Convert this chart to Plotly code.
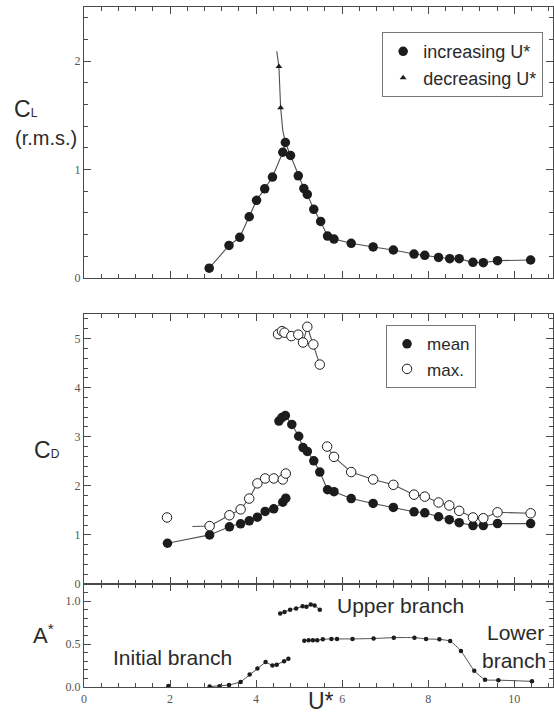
import plotly.graph_objects as go

# ---------------- lift coefficient, r.m.s. ----------------
u_cl_inc = [2.91, 3.37, 3.62, 3.84, 4.01, 4.20, 4.38, 4.62, 4.68, 4.80, 4.98, 5.11, 5.19,
            5.34, 5.50, 5.66, 5.81, 6.21, 6.72, 7.19, 7.67, 7.92, 8.24, 8.50, 8.72, 9.04,
            9.28, 9.61, 10.38]
cl_inc = [0.09, 0.30, 0.375, 0.565, 0.716, 0.823, 0.931, 1.16, 1.25, 1.13, 0.943, 0.825,
          0.771, 0.633, 0.522, 0.387, 0.359, 0.32, 0.286, 0.258, 0.221, 0.209, 0.19, 0.178,
          0.178, 0.144, 0.141, 0.16, 0.166]
u_cl_dec = [4.53, 4.57]
cl_dec = [1.95, 1.57]
# curve followed by the decreasing-U* run down into the peak
u_cl_dec_curve = [4.48, 4.53, 4.57, 4.62, 4.68]
cl_dec_curve = [2.09, 1.95, 1.57, 1.36, 1.25]

# ---------------- drag coefficient ----------------
u_cd_mean = [1.94, 2.92, 3.38, 3.64, 3.84, 4.03, 4.21, 4.41, 4.62, 4.69, None,
             4.53, 4.60, 4.68, 4.83, 4.99, 5.09, 5.19, 5.34, 5.48, 5.66, 5.81, 6.21, 6.72,
             7.19, 7.67, 7.92, 8.24, 8.49, 8.72, 9.04, 9.28, 9.61, 10.38]
cd_mean = [0.83, 1.00, 1.165, 1.226, 1.287, 1.362, 1.477, 1.531, 1.667, 1.748, None,
           3.32, 3.39, 3.43, 3.25, 3.01, 2.78, 2.70, 2.51, 2.28, 1.92, 1.88, 1.74, 1.64,
           1.56, 1.47, 1.45, 1.37, 1.31, 1.25, 1.19, 1.19, 1.23, 1.23]

u_cd_max = [1.93, 2.92, 3.38, 3.64, 3.84, 4.03, 4.21, 4.41, 4.62, 4.69,
            4.51, 4.60, 4.66, 4.82, 4.98, 5.09, 5.19, 5.33, 5.48,
            5.65, 5.81, 6.21, 6.72, 7.19, 7.67, 7.92, 8.24, 8.49, 8.72, 9.04, 9.28, 9.61, 10.38]
cd_max = [1.355, 1.18, 1.40, 1.52, 1.74, 2.05, 2.15, 2.15, 2.13, 2.25,
          5.09, 5.15, 5.12, 5.05, 5.08, 4.92, 5.24, 4.88, 4.47,
          2.80, 2.59, 2.28, 2.13, 2.02, 1.82, 1.78, 1.66, 1.60, 1.49, 1.355, 1.34, 1.46, 1.44]
# joining curves of the max. values (broken between branches)
u_cd_max_curve = [2.52, 2.92, 3.38, 3.64, 3.84, 4.03, 4.21, 4.41, 4.62, 4.69, None,
                  4.51, 4.60, 4.66, 4.82, 4.98, 5.09, 5.19, 5.33, 5.48, None,
                  5.65, 5.81, 6.21, 6.72, 7.19, 7.67, 7.92, 8.24, 8.49, 8.72, 9.04, 9.28,
                  9.61, 10.38]
cd_max_curve = [1.17, 1.18, 1.40, 1.52, 1.74, 2.05, 2.15, 2.15, 2.13, 2.25, None,
                5.09, 5.15, 5.12, 5.05, 5.08, 4.92, 5.24, 4.88, 4.47, None,
                2.80, 2.59, 2.28, 2.13, 2.02, 1.82, 1.78, 1.66, 1.60, 1.49, 1.355, 1.34,
                1.46, 1.44]

# ---------------- amplitude response A* ----------------
u_a_initial = [1.96, None, 2.92, 3.15, 3.37, 3.64, 3.85, 4.03, 4.22, 4.38, 4.48, 4.65, 4.75]
a_initial = [0.012, None, 0.005, 0.01, 0.023, 0.058, 0.146, 0.216, 0.29, 0.25, 0.26, 0.30, 0.33]
u_a_upper = [4.56, 4.66, 4.79, 4.93, 5.08, 5.17, 5.27, 5.36, 5.48]
a_upper = [0.855, 0.875, 0.90, 0.915, 0.94, 0.935, 0.96, 0.95, 0.90]
u_a_lower = [5.12, 5.22, 5.32, 5.42, 5.55, 5.75, 5.88, 6.24, 6.73, 7.20, 7.68, 7.95, 8.26,
             8.51, 8.76, 9.07, 9.32, 9.63, 10.41]
a_lower = [0.54, 0.545, 0.545, 0.545, 0.555, 0.56, 0.56, 0.56, 0.565, 0.575, 0.575, 0.56,
           0.555, 0.535, 0.42, 0.19, 0.085, 0.08, 0.066]

x_ticks = [0, 2, 4, 6, 8, 10]

INK = "#1c1c1c"
LINE = "#505050"
AX = "#4a4a4a"
SANS = "Liberation Sans, Arial, sans-serif"
SERIF = "Liberation Serif, Times New Roman, serif"

fig = go.Figure()


def curve(x, y, xa, ya, width=1.1, shape="linear"):
    fig.add_trace(go.Scatter(x=x, y=y, mode="lines",
                             line=dict(color=LINE, width=width, shape=shape, smoothing=0.5),
                             showlegend=False, hoverinfo="skip", xaxis=xa, yaxis=ya))


# top panel: C_L
curve(u_cl_dec_curve, cl_dec_curve, "x", "y")
curve(u_cl_inc, cl_inc, "x", "y")
fig.add_trace(go.Scatter(x=u_cl_inc, y=cl_inc, mode="markers",
                         marker=dict(symbol="circle", size=9.5, color=INK),
                         name="increasing U*", legend="legend",
                         xaxis="x", yaxis="y"))
fig.add_trace(go.Scatter(x=u_cl_dec, y=cl_dec, mode="markers",
                         marker=dict(symbol="triangle-up", size=6, color=INK),
                         name="decreasing U*", legend="legend",
                         xaxis="x", yaxis="y"))

# middle panel: C_D
curve(u_cd_max_curve, cd_max_curve, "x2", "y2")
curve(u_cd_mean, cd_mean, "x2", "y2")
fig.add_trace(go.Scatter(x=u_cd_mean, y=cd_mean, mode="markers",
                         marker=dict(symbol="circle", size=9.5, color=INK),
                         name="mean", legend="legend2",
                         xaxis="x2", yaxis="y2"))
fig.add_trace(go.Scatter(x=u_cd_max, y=cd_max, mode="markers",
                         marker=dict(symbol="circle", size=9.5, color="white",
                                     line=dict(color=INK, width=1)),
                         name="max.", legend="legend2",
                         xaxis="x2", yaxis="y2"))

# bottom panel: A*
for ux, ay, shape in [(u_a_initial, a_initial, "linear"),
                      (u_a_upper, a_upper, "linear"),
                      (u_a_lower, a_lower, "spline")]:
    fig.add_trace(go.Scatter(x=ux, y=ay, mode="lines+markers",
                             line=dict(color=LINE, width=1, shape=shape, smoothing=0.5),
                             marker=dict(symbol="circle", size=4.5, color=INK),
                             showlegend=False, xaxis="x3", yaxis="y3"))

X_RANGE = [0, 10.9]
tickfont = dict(family=SERIF, size=12, color="#555")


def xax(**kw):
    base = dict(range=X_RANGE, tickmode="array", tickvals=x_ticks, ticks="inside",
                ticklen=7, tickwidth=1.2, tickcolor=AX, showline=True, linecolor=AX,
                linewidth=1.4, mirror="allticks", showgrid=False, zeroline=False,
                minor=dict(dtick=0.4, tick0=0, ticks="inside", ticklen=4, tickwidth=1.1,
                           tickcolor=AX),
                tickfont=tickfont)
    base.update(kw)
    return base


def yax(rng, dtick, minor, **kw):
    base = dict(range=rng, dtick=dtick, ticks="inside", ticklen=7, tickwidth=1.2,
                tickcolor=AX, showline=True, linecolor=AX, linewidth=1.4,
                mirror="allticks", showgrid=False, zeroline=False,
                minor=dict(dtick=minor, ticks="inside", ticklen=4, tickwidth=1.1,
                           tickcolor=AX),
                tickfont=tickfont)
    base.update(kw)
    return base


top_dom = [0.6015, 1.0]
mid_dom = [0.1515, 0.5485]
bot_dom = [0.0, 0.1515]

legend_style = dict(bgcolor="white", bordercolor="#777", borderwidth=1,
                    itemwidth=30, tracegroupgap=0, itemclick=False, itemdoubleclick=False)

fig.update_layout(
    width=554, height=716,
    margin=dict(l=84, r=1, t=7, b=29),
    paper_bgcolor="white", plot_bgcolor="white",
    font=dict(family=SANS, color="#2a2a2a"),
    xaxis=xax(anchor="y", showticklabels=False),
    xaxis2=xax(anchor="y2", showticklabels=False),
    xaxis3=xax(anchor="y3", showticklabels=True),
    yaxis=yax([0, 2.5], 1, 0.2, domain=top_dom, anchor="x"),
    yaxis2=yax([0, 5.5], 1, 0.2, domain=mid_dom, anchor="x2"),
    yaxis3=yax([0, 1.2], 0.5, 0.1, domain=bot_dom, anchor="x3", tickformat=".1f"),
    legend=dict(x=0.979, xanchor="right", y=0.963, yanchor="top",
                font=dict(family=SANS, size=18, color="#2a2a2a"), **legend_style),
    legend2=dict(x=0.644, xanchor="left", y=0.532, yanchor="top",
                 font=dict(family=SANS, size=17, color="#2a2a2a"), **legend_style),
)

ann = []


def label(text, x, y, size, xanchor="left", xref="paper", yref="paper"):
    ann.append(dict(text=text, x=x, y=y, xref=xref, yref=yref, xanchor=xanchor,
                    yanchor="middle", showarrow=False,
                    font=dict(family=SANS, size=size, color="#2a2a2a")))


# axis titles
label('C<span style="font-size:12px">L</span>', -0.153, 0.850, 23)
label("(r.m.s.)", -0.152, 0.807, 20)
label('C<span style="font-size:12px">D</span>', -0.110, 0.3485, 23)
label("A<sup>*</sup>", -0.112, 0.078, 22)
label("U*", 0.473, -0.021, 23)

# branch names on the amplitude plot
label("Upper branch", 5.83, 0.95, 21, xref="x3", yref="y3")
label("Initial branch", 0.63, 0.345, 21, xref="x3", yref="y3")
label("Lower", 9.33, 0.63, 21, xref="x3", yref="y3")
label("branch", 9.20, 0.31, 21, xref="x3", yref="y3")

fig.update_layout(annotations=ann)

fig.write_html("out.html")
